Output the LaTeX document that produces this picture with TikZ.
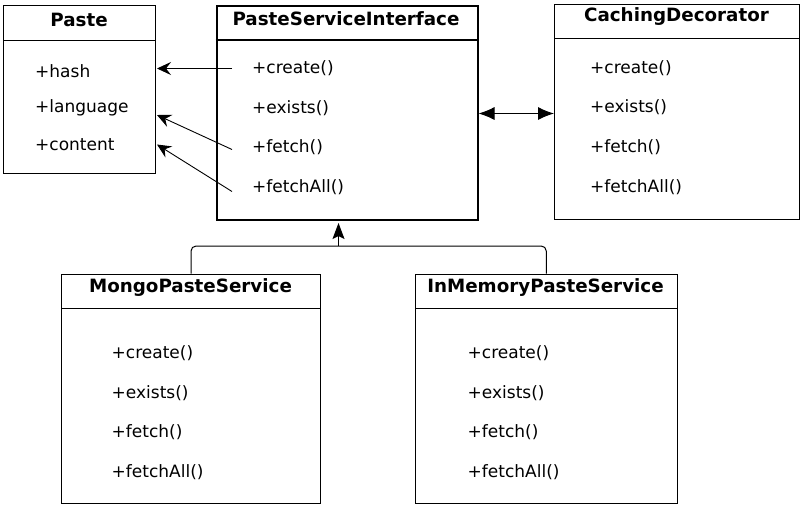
\documentclass[tikz,border=0pt]{standalone}
\usepackage{fontspec}
\setmainfont{DejaVu Sans}
\usetikzlibrary{arrows.meta}

\begin{document}
\begin{tikzpicture}[x=1pt, y=-1pt,
    classbox/.style={draw, line width=1pt, inner sep=0pt, anchor=north west},
    title/.style={font=\fontsize{18.3}{22}\selectfont\bfseries, inner sep=0pt},
    member/.style={font=\fontsize{17}{20}\selectfont, anchor=west, inner sep=0pt},
    uses/.style={line width=0.9pt, -{Stealth[length=14pt, width=13pt, inset=5pt]}},
    link/.style={line width=1pt, {Latex[length=16pt, width=13pt]}-{Latex[length=16pt, width=13pt]}},
    realize/.style={line width=1pt, -{Stealth[length=16pt, width=12pt, inset=3pt]}}]
    \useasboundingbox (0,0) rectangle (802,507);

    % Paste (data class)
    \node[classbox, minimum width=152pt, minimum height=168pt] (paste) at (3,5) {};
    \node[title] (paste-title) at (79,19.5) {Paste};
    \draw[line width=1pt] (paste.west |- 0,40.5) -- (paste.east |- 0,40.5);
    \node[member] (paste-hash) at (35,71) {+hash};
    \node[member] (paste-lang) at (35,108) {+language};
    \node[member] (paste-content) at (35,144.5) {+content};

    % the interface (thick border)
    \node[classbox, line width=2pt, minimum width=261pt, minimum height=214pt] (psi) at (215.5,5) {};
    \node[title] (psi-title) at (346,18.5) {PasteServiceInterface};
    \draw[line width=2pt] (psi.west |- 0,39.5) -- (psi.east |- 0,39.5);
    \foreach \m/\y in {create/68.5, exists/108, fetch/147.5, fetchAll/187.5}
        \node[member] (psi-\m) at (252,\y) {+\m()};

    % CachingDecorator
    \node[classbox, minimum width=245pt, minimum height=215.5pt] (cache) at (554,3.5) {};
    \node[title] (cache-title) at (676.5,17) {CachingDecorator};
    \draw[line width=1pt] (cache.west |- 0,38.5) -- (cache.east |- 0,38.5);
    \foreach \m/\y in {create/68, exists/107.5, fetch/147, fetchAll/187.5}
        \node[member] (cache-\m) at (590,\y) {+\m()};

    % MongoPasteService
    \node[classbox, minimum width=259pt, minimum height=229pt] (mongo) at (61,273.5) {};
    \node[title] (mongo-title) at (190.5,287.5) {MongoPasteService};
    \draw[line width=1pt] (mongo.west |- 0,308.5) -- (mongo.east |- 0,308.5);
    \foreach \m/\y in {create/353.5, exists/393, fetch/432.5, fetchAll/472}
        \node[member] (mongo-\m) at (111.5,\y) {+\m()};

    % InMemoryPasteService
    \node[classbox, minimum width=261.5pt, minimum height=229pt] (inmem) at (415,273.5) {};
    \node[title] (inmem-title) at (545.5,287.5) {InMemoryPasteService};
    \draw[line width=1pt] (inmem.west |- 0,308.5) -- (inmem.east |- 0,308.5);
    \foreach \m/\y in {create/353.5, exists/393, fetch/432.5, fetchAll/472}
        \node[member] (inmem-\m) at (467.5,\y) {+\m()};

    % the interface returns Paste objects
    \draw[uses] ([xshift=-20pt]psi-create.west) -- ([xshift=1pt]paste.east |- psi-create.west);
    \draw[uses] ([xshift=-20pt, yshift=-2pt]psi-fetch.west) -- ([xshift=1pt]paste.east |- 0,115);
    \draw[uses] ([xshift=-20pt, yshift=-4pt]psi-fetchAll.west) -- ([xshift=1pt]paste.east |- paste-content);

    % decorator wraps the interface
    \draw[link] (psi.east |- 0,113.5) -- (cache.west |- 0,113.5);

    % both services implement the interface
    \coordinate (join) at (338.5,246);
    \draw[line width=1pt, rounded corners=5pt] (mongo.north) |- (join) -| (inmem.north);
    \draw[realize] (join) -- ([yshift=-2pt]join |- psi.south);
\end{tikzpicture}
\end{document}
